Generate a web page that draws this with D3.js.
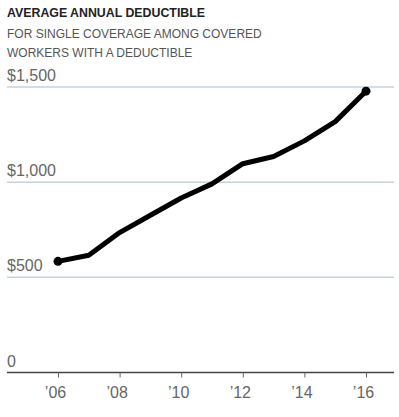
<!DOCTYPE html>
<html>
<head>
<meta charset="utf-8">
<script src="https://cdn.jsdelivr.net/npm/d3@7"></script>
<style>
  body { margin: 0; background: #fff; }
  svg { display: block; }
</style>
</head>
<body>
<div class="chart"></div>
<script>
const years = [2006, 2007, 2008, 2009, 2010, 2011, 2012, 2013, 2014, 2015, 2016];
const deductibles = [584, 616, 735, 826, 917, 991, 1097, 1135, 1217, 1318, 1478];
const yTicks = [0, 500, 1000, 1500];
const yTickLabels = ['0', '$500', '$1,000', '$1,500'];
const xTicks = [2006, 2008, 2010, 2012, 2014, 2016];
const title = 'AVERAGE ANNUAL DEDUCTIBLE';
const subtitle = ['FOR SINGLE COVERAGE AMONG COVERED', 'WORKERS WITH A DEDUCTIBLE'];

let svgW = 399,
    svgH = 417,
    left = 7,
    right = 394;

const svg = d3.select('.chart')
    .append('svg')
    .attr('width', svgW)
    .attr('height', svgH);

const x = d3.scaleLinear().domain([2006, 2016]).range([58, 366]);
const y = d3.scaleLinear().domain([0, 1500]).range([372.5, 87]);

// header
svg.append('text')
    .attr('x', left)
    .attr('y', 17)
    .text(title)
    .attr('font-family', 'Liberation Sans, Arial, sans-serif')
    .attr('font-weight', 'bold')
    .attr('font-size', 12)
    .attr('textLength', 198)
    .attr('lengthAdjust', 'spacingAndGlyphs')
    .attr('fill', '#222');

svg.selectAll('text.sub')
    .data(subtitle)
    .enter()
    .append('text')
    .attr('class', 'sub')
    .attr('x', left)
    .attr('y', (d, i) => 38 + i * 19)
    .text(d => d)
    .attr('font-family', 'Liberation Sans, Arial, sans-serif')
    .attr('font-size', 12)
    .attr('fill', '#555');

// gridlines
svg.selectAll('line.grid')
    .data(yTicks.filter(d => d > 0))
    .enter()
    .append('line')
    .attr('class', 'grid')
    .attr('x1', left)
    .attr('x2', right)
    .attr('y1', d => y(d))
    .attr('y2', d => y(d))
    .attr('stroke', '#c3d3dc')
    .attr('stroke-width', 1.5);

svg.selectAll('text.ylab')
    .data(yTicks)
    .enter()
    .append('text')
    .attr('class', 'ylab')
    .attr('x', left)
    .attr('y', d => y(d) - 6)
    .text((d, i) => yTickLabels[i])
    .attr('font-family', 'Liberation Sans, Arial, sans-serif')
    .attr('font-size', 16)
    .attr('fill', '#666');

// x axis
const xAxis = d3.axisBottom(x)
    .tickValues(xTicks)
    .tickSize(5)
    .tickPadding(9)
    .tickFormat(d => '\u2019' + String(d).slice(2));

const gx = svg.append('g')
    .attr('transform', `translate(0,${y(0)})`)
    .call(xAxis);

gx.select('.domain').remove();
gx.insert('line', ':first-child')
    .attr('x1', left)
    .attr('x2', right)
    .attr('stroke', '#444')
    .attr('stroke-width', 1.5);
gx.selectAll('.tick line').attr('stroke', '#666').attr('stroke-width', 1);
gx.selectAll('.tick text')
    .attr('font-family', 'Liberation Sans, Arial, sans-serif')
    .attr('font-size', 16)
    .attr('fill', '#666')
    .attr('dx', -3);

// line
const line = d3.line()
    .x((d, i) => x(years[i]))
    .y(d => y(d));

svg.append('path')
    .datum(deductibles)
    .attr('d', line)
    .attr('fill', 'none')
    .attr('stroke', '#000')
    .attr('stroke-width', 5)
    .attr('stroke-linejoin', 'round')
    .attr('stroke-linecap', 'round');

svg.selectAll('circle.end')
    .data([0, deductibles.length - 1])
    .enter()
    .append('circle')
    .attr('class', 'end')
    .attr('cx', i => x(years[i]))
    .attr('cy', i => y(deductibles[i]))
    .attr('r', 4.5)
    .attr('fill', '#000');
</script>
</body>
</html>
